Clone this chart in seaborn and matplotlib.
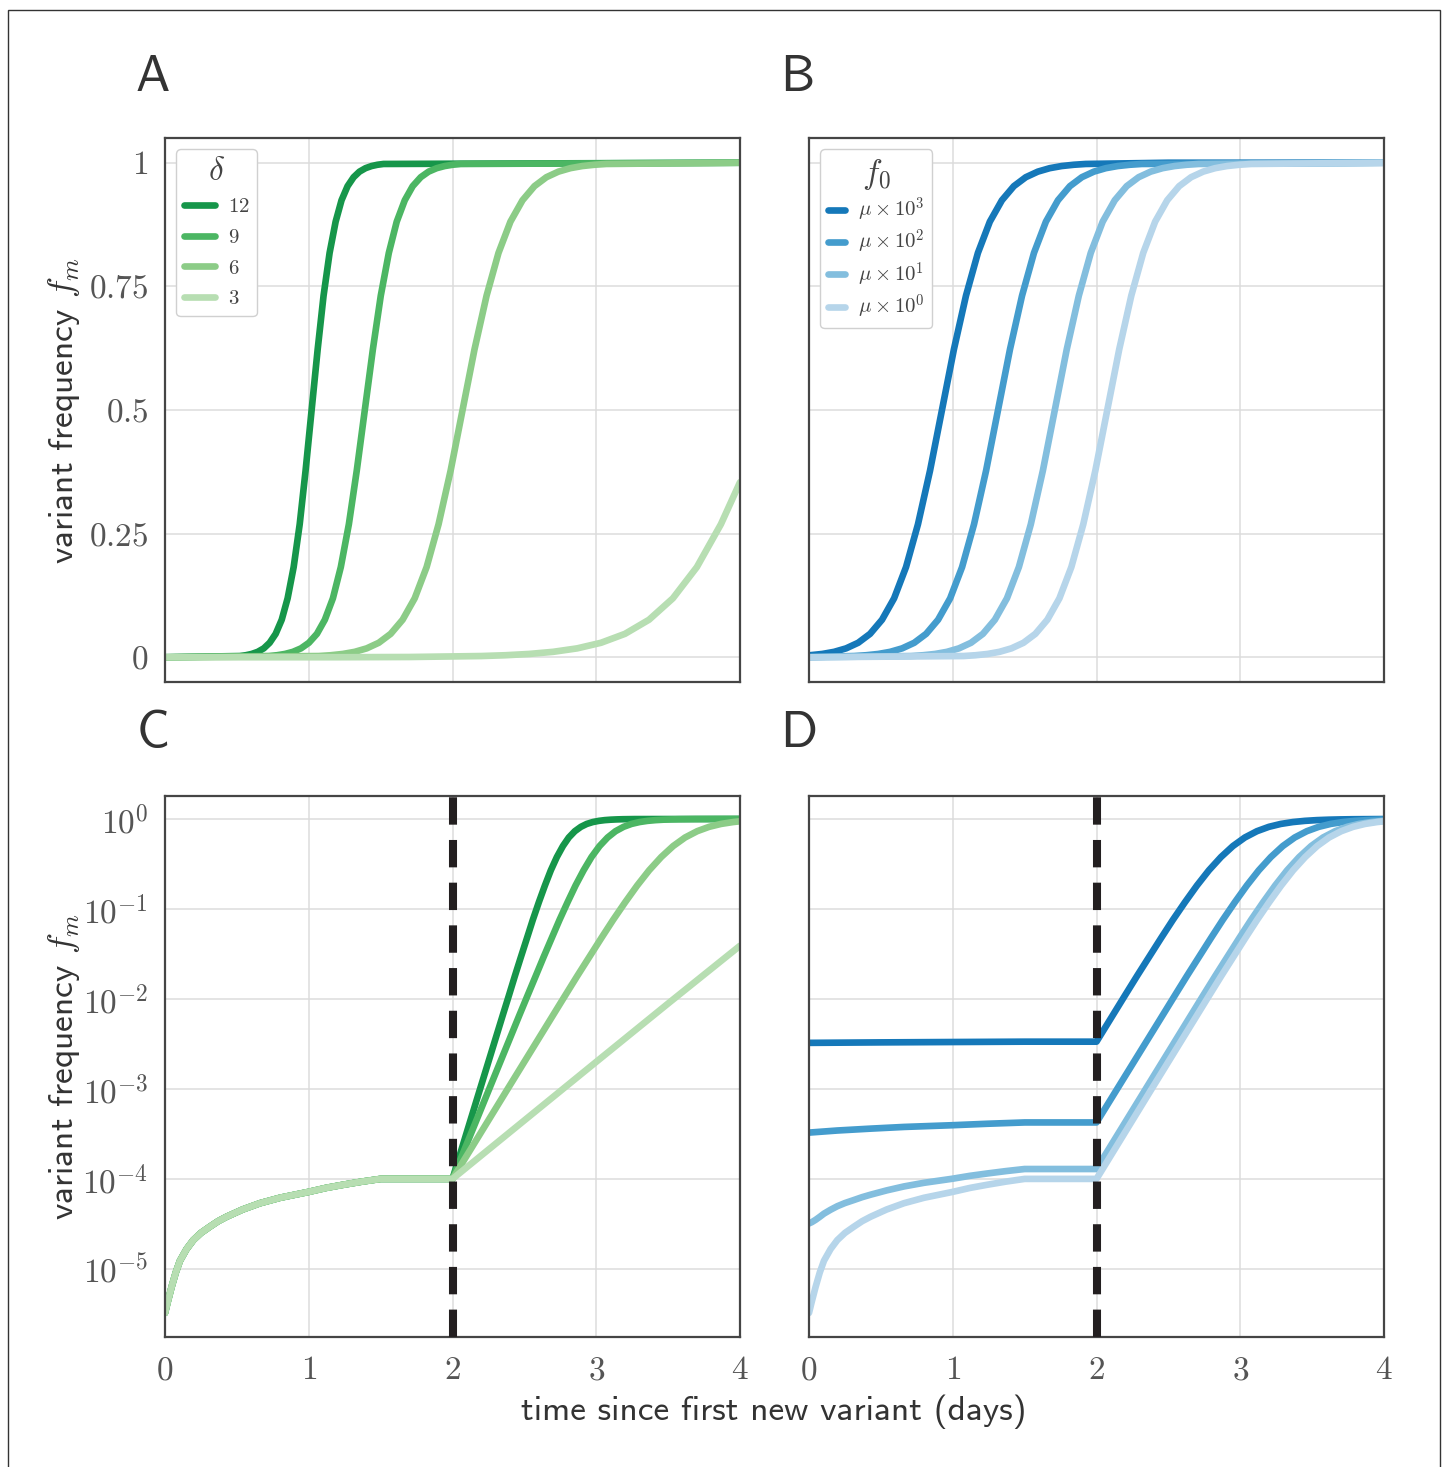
import matplotlib
matplotlib.use("Agg")
import matplotlib.pyplot as plt
import numpy as np
import pandas as pd
import seaborn as sns
from matplotlib.patches import Rectangle
from matplotlib.ticker import FixedLocator, FixedFormatter, NullLocator

# ---------------- data ----------------
DELTA_LABELS = ["12", "9", "6", "3"]
F0_LABELS = [r"$\mu \times 10^{3}$", r"$\mu \times 10^{2}$",
             r"$\mu \times 10^{1}$", r"$\mu \times 10^{0}$"]

# Panel A (linear frequency), one curve per delta
A_T_12 = [0, 0.520, 0.562, 0.603, 0.645, 0.687, 0.728, 0.770, 0.812, 0.853, 0.895, 0.937, 0.978, 1.020,
          1.062, 1.103, 1.145, 1.187, 1.228, 1.270, 1.312, 1.353, 1.395, 1.437, 1.478, 1.520, 4.0]
A_F_12 = [0, 0.0025, 0.0041, 0.0067, 0.011, 0.018, 0.0293, 0.0474, 0.0759, 0.1192, 0.1824, 0.2689, 0.3775, 0.5,
          0.6225, 0.7311, 0.8176, 0.8808, 0.9241, 0.9526, 0.9707, 0.982, 0.989, 0.9933, 0.9959, 0.9975, 1.0]
A_T_9 = [0, 0.723, 0.779, 0.834, 0.890, 0.946, 1.001, 1.057, 1.112, 1.168, 1.223, 1.279, 1.334, 1.390,
         1.446, 1.501, 1.557, 1.612, 1.668, 1.723, 1.779, 1.834, 1.890, 1.946, 2.001, 2.057, 4.0]
A_F_9 = [0, 0.0025, 0.0041, 0.0067, 0.011, 0.018, 0.0293, 0.0474, 0.0759, 0.1192, 0.1824, 0.2689, 0.3775, 0.5,
         0.6225, 0.7311, 0.8176, 0.8808, 0.9241, 0.9526, 0.9707, 0.982, 0.989, 0.9933, 0.9959, 0.9975, 1.0]
A_T_6 = [0, 1.070, 1.153, 1.237, 1.320, 1.403, 1.487, 1.570, 1.653, 1.737, 1.820, 1.903, 1.987, 2.070,
         2.153, 2.237, 2.320, 2.403, 2.487, 2.570, 2.653, 2.737, 2.820, 2.903, 2.987, 3.070, 4.0]
A_F_6 = [0, 0.0025, 0.0041, 0.0067, 0.011, 0.018, 0.0293, 0.0474, 0.0759, 0.1192, 0.1824, 0.2689, 0.3775, 0.5,
         0.6225, 0.7311, 0.8176, 0.8808, 0.9241, 0.9526, 0.9707, 0.982, 0.989, 0.9933, 0.9959, 0.9975, 1.0]
A_T_3 = [0, 1.2, 1.7, 2.2, 2.367, 2.533, 2.7, 2.867, 3.033, 3.2, 3.367, 3.533, 3.7, 3.867, 4.0]
A_F_3 = [0, 0.0001, 0.00055, 0.0025, 0.0041, 0.0067, 0.011, 0.018, 0.0293, 0.0474, 0.0759, 0.1192, 0.1824, 0.2689, 0.354]

# Panel B (linear frequency), one curve per initial frequency f0
B_T_3 = [0, 0.092, 0.175, 0.258, 0.342, 0.425, 0.508, 0.592, 0.675, 0.758, 0.842, 0.925,
         1.008, 1.092, 1.175, 1.258, 1.342, 1.425, 1.508, 1.592, 1.675, 1.758, 1.842, 1.925, 2.5, 4.0]
B_F_3 = [0.0039, 0.0067, 0.011, 0.018, 0.0293, 0.0474, 0.0759, 0.1192, 0.1824, 0.2689, 0.3775, 0.5,
         0.6225, 0.7311, 0.8176, 0.8808, 0.9241, 0.9526, 0.9707, 0.982, 0.989, 0.9933, 0.9959, 0.9975, 1.0, 1.0]
B_T_2 = [0, 0.315, 0.398, 0.482, 0.565, 0.648, 0.732, 0.815, 0.898, 0.982, 1.065, 1.148, 1.232, 1.315,
         1.398, 1.482, 1.565, 1.648, 1.732, 1.815, 1.898, 1.982, 2.065, 2.148, 2.232, 2.315, 4.0]
B_F_2 = [0.00037, 0.0025, 0.0041, 0.0067, 0.011, 0.018, 0.0293, 0.0474, 0.0759, 0.1192, 0.1824, 0.2689, 0.3775, 0.5,
         0.6225, 0.7311, 0.8176, 0.8808, 0.9241, 0.9526, 0.9707, 0.982, 0.989, 0.9933, 0.9959, 0.9975, 1.0]
B_T_1 = [0, 0.710, 0.793, 0.877, 0.960, 1.043, 1.127, 1.210, 1.293, 1.377, 1.460, 1.543, 1.627, 1.710,
         1.793, 1.877, 1.960, 2.043, 2.127, 2.210, 2.293, 2.377, 2.460, 2.543, 2.627, 2.710, 4.0]
B_F_1 = [0.00004, 0.0025, 0.0041, 0.0067, 0.011, 0.018, 0.0293, 0.0474, 0.0759, 0.1192, 0.1824, 0.2689, 0.3775, 0.5,
         0.6225, 0.7311, 0.8176, 0.8808, 0.9241, 0.9526, 0.9707, 0.982, 0.989, 0.9933, 0.9959, 0.9975, 1.0]
B_T_0 = [0, 1.075, 1.158, 1.242, 1.325, 1.408, 1.492, 1.575, 1.658, 1.742, 1.825, 1.908, 1.992, 2.075,
         2.158, 2.242, 2.325, 2.408, 2.492, 2.575, 2.658, 2.742, 2.825, 2.908, 2.992, 3.075, 4.0]
B_F_0 = [0.000004, 0.0025, 0.0041, 0.0067, 0.011, 0.018, 0.0293, 0.0474, 0.0759, 0.1192, 0.1824, 0.2689, 0.3775, 0.5,
         0.6225, 0.7311, 0.8176, 0.8808, 0.9241, 0.9526, 0.9707, 0.982, 0.989, 0.9933, 0.9959, 0.9975, 1.0]

# Panel C (log frequency): shared early phase, then one rise per delta
C_PRE_T = [0, 0.02, 0.046, 0.075, 0.104, 0.15, 0.197, 0.25, 0.313, 0.37, 0.429, 0.54, 0.661, 0.8,
           0.997, 1.12, 1.24, 1.37, 1.5]
C_PRE_F = [3.24e-6, 4.37e-6, 6.31e-6, 9.12e-6, 1.23e-5, 1.66e-5, 2.09e-5, 2.51e-5, 2.95e-5, 3.39e-5,
           3.80e-5, 4.57e-5, 5.37e-5, 6.17e-5, 7.16e-5, 7.94e-5, 8.61e-5, 9.33e-5, 1.0e-4]
C_T_12 = [2.0, 2.184, 2.351, 2.393, 2.434, 2.476, 2.518, 2.559, 2.601, 2.643, 2.684, 2.726, 2.768,
          2.809, 2.851, 2.893, 2.934, 2.976, 3.018, 3.059, 3.101, 3.143, 3.184, 3.268, 4.0]
C_F_12 = [1e-4, 0.00091, 0.0067, 0.011, 0.018, 0.0293, 0.0474, 0.0759, 0.1192, 0.1824, 0.2689, 0.3775, 0.5,
          0.6225, 0.7311, 0.8176, 0.8808, 0.9241, 0.9526, 0.9707, 0.982, 0.989, 0.9933, 0.9975, 1.0]
C_T_9 = [2.0, 2.245, 2.467, 2.523, 2.579, 2.634, 2.690, 2.745, 2.801, 2.856, 2.912, 2.967, 3.023,
         3.079, 3.134, 3.190, 3.245, 3.301, 3.356, 3.412, 3.467, 3.523, 3.579, 3.690, 4.0]
C_F_9 = [1e-4, 0.00091, 0.0067, 0.011, 0.018, 0.0293, 0.0474, 0.0759, 0.1192, 0.1824, 0.2689, 0.3775, 0.5,
         0.6225, 0.7311, 0.8176, 0.8808, 0.9241, 0.9526, 0.9707, 0.982, 0.989, 0.9933, 0.9975, 0.9998]
C_T_6 = [2.0, 2.368, 2.702, 2.785, 2.868, 2.952, 3.035, 3.118, 3.202, 3.285, 3.368, 3.452, 3.535,
         3.618, 3.702, 3.785, 3.868, 3.952, 4.0]
C_F_6 = [1e-4, 0.00091, 0.0067, 0.011, 0.018, 0.0293, 0.0474, 0.0759, 0.1192, 0.1824, 0.2689, 0.3775, 0.5,
         0.6225, 0.7311, 0.8176, 0.8808, 0.9241, 0.942]
C_T_3 = [2.0, 3.0, 3.5, 4.0]
C_F_3 = [1e-4, 0.002, 0.0089, 0.039]

# Panel D (log frequency): one curve per f0
D_PRE_T_3 = [0, 0.5, 1.0, 1.5]
D_PRE_F_3 = [3.25e-3, 3.29e-3, 3.32e-3, 3.35e-3]
D_T_3 = [2.0, 2.116, 2.199, 2.282, 2.366, 2.449, 2.532, 2.616, 2.699, 2.782, 2.866, 2.949,
         3.032, 3.116, 3.199, 3.282, 3.366, 3.449, 3.532, 3.616, 3.699, 3.782, 4.0]
D_F_3 = [3.35e-3, 0.0067, 0.011, 0.018, 0.0293, 0.0474, 0.0759, 0.1192, 0.1824, 0.2689, 0.3775, 0.5,
         0.6225, 0.7311, 0.8176, 0.8808, 0.9241, 0.9526, 0.9707, 0.982, 0.989, 0.9933, 0.9982]
D_PRE_T_2 = [0, 0.197, 0.429, 0.661, 0.997, 1.24, 1.5]
D_PRE_F_2 = [3.27e-4, 3.45e-4, 3.62e-4, 3.78e-4, 3.95e-4, 4.10e-4, 4.24e-4]
D_T_2 = [2.0, 2.463, 2.546, 2.629, 2.713, 2.796, 2.879, 2.963, 3.046, 3.129, 3.213, 3.296,
         3.379, 3.463, 3.546, 3.629, 3.713, 3.796, 3.879, 3.963, 4.0]
D_F_2 = [4.24e-4, 0.0067, 0.011, 0.018, 0.0293, 0.0474, 0.0759, 0.1192, 0.1824, 0.2689, 0.3775, 0.5,
         0.6225, 0.7311, 0.8176, 0.8808, 0.9241, 0.9526, 0.9707, 0.982, 0.9855]
D_PRE_T_1 = [0, 0.02, 0.046, 0.075, 0.104, 0.15, 0.197, 0.25, 0.313, 0.37, 0.429, 0.54, 0.661, 0.8,
             0.997, 1.12, 1.24, 1.37, 1.5]
D_PRE_F_1 = [3.2e-5, 3.31e-5, 3.51e-5, 3.79e-5, 4.11e-5, 4.54e-5, 4.97e-5, 5.39e-5, 5.83e-5, 6.27e-5,
             6.68e-5, 7.45e-5, 8.25e-5, 9.05e-5, 1.004e-4, 1.082e-4, 1.149e-4, 1.221e-4, 1.288e-4]
D_T_1 = [2.0, 2.660, 2.743, 2.826, 2.910, 2.993, 3.076, 3.160, 3.243, 3.326, 3.410, 3.493,
         3.576, 3.660, 3.743, 3.826, 3.910, 4.0]
D_F_1 = [1.288e-4, 0.0067, 0.011, 0.018, 0.0293, 0.0474, 0.0759, 0.1192, 0.1824, 0.2689, 0.3775, 0.5,
         0.6225, 0.7311, 0.8176, 0.8808, 0.9241, 0.954]
D_PRE_T_0 = C_PRE_T
D_PRE_F_0 = C_PRE_F
D_T_0 = C_T_6
D_F_0 = C_F_6

LIN_TICKS = [0, 0.25, 0.5, 0.75, 1]
LIN_TICK_LABELS = ["$0$", "$0.25$", "$0.5$", "$0.75$", "$1$"]
LOG_TICKS = [1e-5, 1e-4, 1e-3, 1e-2, 1e-1, 1e0]
LOG_TICK_LABELS = ["$10^{-5}$", "$10^{-4}$", "$10^{-3}$", "$10^{-2}$", "$10^{-1}$", "$10^{0}$"]
X_TICKS = [0, 1, 2, 3, 4]
X_TICK_LABELS = ["$0$", "$1$", "$2$", "$3$", "$4$"]
T_SWITCH = 2.0

# ---------------- style ----------------
GREENS = ["#16964a", "#4cb663", "#8ccc87", "#b7deb2"]
BLUES = ["#1578b9", "#449ccd", "#83bede", "#b6d5ea"]

sns.set_theme(style="whitegrid", rc={
    "axes.edgecolor": "#454545",
    "axes.linewidth": 1.6,
    "grid.color": "#dcdcdc",
    "grid.linewidth": 1.1,
    "mathtext.fontset": "cm",
    "xtick.color": "#555555",
    "ytick.color": "#555555",
    "text.color": "#333333",
    "axes.labelcolor": "#333333",
})
plt.rcParams["font.family"] = ["cmss10", "DejaVu Sans"]
plt.rcParams["mathtext.fontset"] = "cm"
plt.rcParams["axes.unicode_minus"] = False


def long_df(ts, fs, labels):
    rows = []
    for t, f, lab in zip(ts, fs, labels):
        rows.append(pd.DataFrame({"t": t, "f": f, "series": lab}))
    return pd.concat(rows, ignore_index=True)


dfA = long_df([A_T_12, A_T_9, A_T_6, A_T_3], [A_F_12, A_F_9, A_F_6, A_F_3], DELTA_LABELS)
dfB = long_df([B_T_3, B_T_2, B_T_1, B_T_0], [B_F_3, B_F_2, B_F_1, B_F_0], F0_LABELS)
dfC = long_df([C_PRE_T + C_T_12, C_PRE_T + C_T_9, C_PRE_T + C_T_6, C_PRE_T + C_T_3],
              [C_PRE_F + C_F_12, C_PRE_F + C_F_9, C_PRE_F + C_F_6, C_PRE_F + C_F_3], DELTA_LABELS)
dfD = long_df([D_PRE_T_3 + D_T_3, D_PRE_T_2 + D_T_2, D_PRE_T_1 + D_T_1, D_PRE_T_0 + D_T_0],
              [D_PRE_F_3 + D_F_3, D_PRE_F_2 + D_F_2, D_PRE_F_1 + D_F_1, D_PRE_F_0 + D_F_0], F0_LABELS)

fig = plt.figure(figsize=(14.45, 14.67), dpi=100)
FW, FH = 1445.0, 1467.0
W = 575 / FW
axA = fig.add_axes([165 / FW, 1 - 682 / FH, W, 544 / FH])
axB = fig.add_axes([809 / FW, 1 - 682 / FH, W, 544 / FH])
axC = fig.add_axes([165 / FW, 1 - 1337 / FH, W, 541 / FH])
axD = fig.add_axes([809 / FW, 1 - 1337 / FH, W, 541 / FH])

LW = 4.8


def draw(ax, df, labels, colors):
    for lab, col in zip(labels, colors):
        sub = df[df["series"] == lab]
        sns.lineplot(data=sub, x="t", y="f", ax=ax, color=col, lw=LW,
                     estimator=None, sort=False, legend=False,
                     solid_capstyle="round", solid_joinstyle="round")
    ax.set_xlabel("")
    ax.set_ylabel("")


draw(axA, dfA, DELTA_LABELS, GREENS)
draw(axB, dfB, F0_LABELS, BLUES)
draw(axC, dfC, DELTA_LABELS, GREENS)
draw(axD, dfD, F0_LABELS, BLUES)

for ax in (axA, axB, axC, axD):
    ax.set_xlim(0, 4)
    ax.xaxis.set_major_locator(FixedLocator(X_TICKS))
    ax.xaxis.set_major_formatter(FixedFormatter(X_TICK_LABELS))
    ax.tick_params(axis="both", labelsize=24, length=0)
    ax.tick_params(axis="x", pad=14)
    ax.tick_params(axis="y", pad=12)
    for s in ax.spines.values():
        s.set_visible(True)
        s.set_color("#454545")
        s.set_linewidth(1.6)

for ax in (axA, axB):
    ax.set_ylim(-0.05, 1.05)
    ax.yaxis.set_major_locator(FixedLocator(LIN_TICKS))
    ax.yaxis.set_major_formatter(FixedFormatter(LIN_TICK_LABELS))
    ax.tick_params(axis="x", labelbottom=False)

for ax in (axC, axD):
    ax.set_yscale("log")
    ax.set_ylim(1.75e-6, 1.8)
    ax.yaxis.set_major_locator(FixedLocator(LOG_TICKS))
    ax.yaxis.set_major_formatter(FixedFormatter(LOG_TICK_LABELS))
    ax.yaxis.set_minor_locator(NullLocator())
    ax.axvline(T_SWITCH, color="#231f20", lw=5.8, dashes=(3.4, 1.9),
               dash_capstyle="butt", zorder=5)

for ax in (axB, axD):
    ax.tick_params(axis="y", labelleft=False)

for ax in (axA, axC):
    ax.set_ylabel(r"variant frequency $f_m$", fontsize=25.5, color="#333333")
    ax.yaxis.set_label_coords(-0.145, 0.5)

# legends
legA = axA.legend(handles=axA.get_lines()[:4], labels=["$" + d + "$" for d in DELTA_LABELS],
                  loc="upper left", bbox_to_anchor=(0.0, 1.0), borderaxespad=0.55,
                  title=r"$\delta$", title_fontsize=24, fontsize=15,
                  handlelength=1.5, handletextpad=0.6, labelspacing=0.56,
                  frameon=True, fancybox=True, framealpha=1, edgecolor="#d0d0d0",
                  borderpad=0.35)
for txt in legA.get_texts():
    txt.set_color("#444444")
legA.get_title().set_color("#444444")

legB = axB.legend(handles=axB.get_lines()[:4], labels=F0_LABELS, loc="upper left",
                  bbox_to_anchor=(0.0, 1.0), borderaxespad=0.55,
                  title=r"$f_0$", title_fontsize=24, fontsize=15,
                  handlelength=0.85, handletextpad=0.6, labelspacing=0.2,
                  frameon=True, fancybox=True, framealpha=1, edgecolor="#d0d0d0",
                  borderpad=0.35)
for txt in legB.get_texts():
    txt.set_color("#444444")
legB.get_title().set_color("#444444")

# panel letters
for lab, x, y in (("A", 153, 78), ("B", 797, 78), ("C", 153, 734), ("D", 799, 734)):
    fig.text(x / FW, 1 - y / FH, lab, fontsize=37, ha="center", va="center", color="#333333")

# shared x label
fig.text(774 / FW, 1 - 1412 / FH, "time since first new variant (days)",
         fontsize=25.5, ha="center", va="center", color="#333333")

# outer frame
fig.patches.append(Rectangle((8 / FW, -0.01), (1440 - 8) / FW, (FH - 10) / FH + 0.01,
                             transform=fig.transFigure, fill=False,
                             edgecolor="#333333", lw=1.0))

fig.savefig("out.png", dpi=100)
